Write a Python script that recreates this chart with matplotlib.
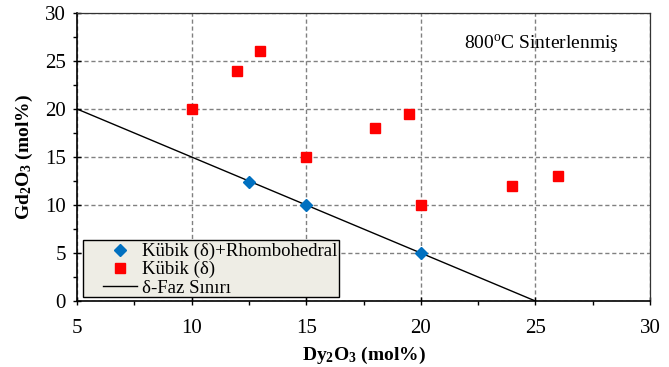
import matplotlib
matplotlib.use('Agg')
import matplotlib.pyplot as plt
from matplotlib.patches import Rectangle
from matplotlib.ticker import MultipleLocator

# Data
kubik_rh_x = [12.5, 15, 20]
kubik_rh_y = [12.4, 10, 5]
kubik_x = [10, 12, 13, 15, 18, 19.5, 20, 24, 26]
kubik_y = [20, 24, 26, 15, 18, 19.5, 10, 12, 13]
sinir_x = [5, 25]
sinir_y = [20, 0]

plt.rcParams['font.family'] = 'Liberation Serif'
plt.rcParams['mathtext.fontset'] = 'custom'
plt.rcParams['mathtext.rm'] = 'Liberation Serif'
plt.rcParams['mathtext.bf'] = 'Liberation Serif:bold'

fig = plt.figure(figsize=(6.69, 3.67), dpi=100)
ax = fig.add_axes([0.1151, 0.1798, 0.9716 - 0.1151, 0.9646 - 0.1798])

ax.plot(kubik_rh_x, kubik_rh_y, linestyle='none', marker='D', color='#0070C0',
        markersize=6, label='Kübik (δ)+Rhombohedral', zorder=3)
ax.plot(kubik_x, kubik_y, linestyle='none', marker='s', color='#FF0000',
        markersize=6.5, label='Kübik (δ)', zorder=3)
ax.plot(sinir_x, sinir_y, color='black', linewidth=1, label='δ-Faz Sınırı', zorder=2)

ax.set_xlim(5, 30)
ax.set_ylim(0, 30)
ax.xaxis.set_major_locator(MultipleLocator(5))
ax.yaxis.set_major_locator(MultipleLocator(5))
ax.xaxis.set_minor_locator(MultipleLocator(2.5))
ax.yaxis.set_minor_locator(MultipleLocator(2.5))
ax.tick_params(which='major', direction='inout', length=6, labelsize=15, width=1)
ax.tick_params(which='minor', direction='out', length=3, width=1)
ax.tick_params(axis='x', pad=10)
ax.tick_params(axis='y', pad=5)
ax.grid(True, which='major', linestyle=(0, (3, 2)), color='#808080', linewidth=1)

for s in ['top', 'right']:
    ax.spines[s].set_linewidth(0.9)
    ax.spines[s].set_color('#333333')
for s in ['left', 'bottom']:
    ax.spines[s].set_linewidth(1.2)

ax.set_xlabel(r'$\mathbf{Dy_2O_3}$ (mol%)', fontsize=14, fontweight='bold', labelpad=5)
ax.set_ylabel(r'$\mathbf{Gd_2O_3}$ (mol%)', fontsize=14, fontweight='bold', labelpad=7)

ax.text(25.25, 26.7, '800$^{\\mathrm{o}}$C Sinterlenmiş', fontsize=14, ha='center', va='center')

# legend box drawn by hand so the padding matches
box = Rectangle((5.26, 0.45), 16.43 - 5.26, 6.35 - 0.45, facecolor='#EEEDE5',
                edgecolor='black', linewidth=1, zorder=4)
ax.add_patch(box)
leg = ax.legend(loc='upper left', bbox_to_anchor=(6.05, 6.25), bbox_transform=ax.transData,
                fontsize=13.5, frameon=False, borderpad=0.1, labelspacing=0.05,
                handletextpad=0.3, handlelength=1.8, borderaxespad=0)
leg.set_zorder(5)

fig.savefig('out.png', dpi=100)
